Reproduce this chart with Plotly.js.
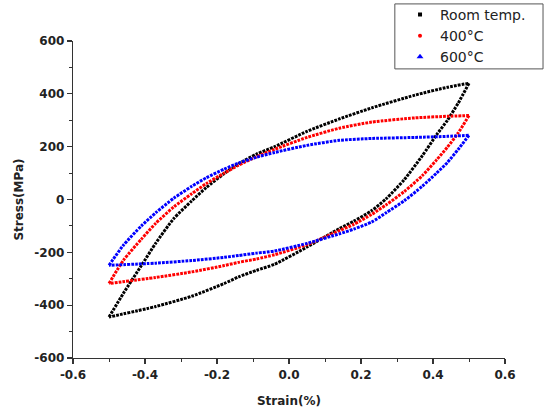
<!DOCTYPE html>
<html>
<head>
<meta charset="utf-8">
<script src="https://cdn.plot.ly/plotly-3.0.1.min.js"></script>
<style>html,body{margin:0;padding:0;background:#fff;}</style>
</head>
<body>
<div id="chart" style="width:544px;height:414px;"></div>
<script>
// Loading branch (from -0.5 % to +0.5 %)
const strainUp = [-0.5, -0.46, -0.41, -0.37, -0.32, -0.27, -0.23, -0.18, -0.14, -0.09, -0.04, 0.05, 0.14, 0.23, 0.35, 0.44, 0.5];
// Unloading branch (from +0.5 % back to -0.5 %)
const strainDown = [0.5, 0.47, 0.44, 0.41, 0.37, 0.32, 0.27, 0.23, 0.18, 0.14, 0.05, -0.04, -0.09, -0.14, -0.18, -0.27, -0.37, -0.5];

const roomUp   = [-445, -355, -250, -165, -72, -5, 45, 98, 135, 172, 200, 258, 305, 347, 395, 425, 440];
const roomDown = [440, 365, 300, 245, 165, 75, 3, -42, -82, -110, -180, -245, -268, -293, -318, -366, -405, -445];

const t400Up   = [-318, -230, -150, -90, -28, 22, 60, 100, 130, 162, 190, 235, 270, 293, 309, 315, 318];
const t400Down = [318, 252, 198, 150, 90, 30, -20, -56, -94, -118, -171, -209, -225, -238, -250, -274, -295, -318];

const t600Up   = [-249, -173, -100, -50, 5, 50, 82, 115, 138, 160, 178, 205, 224, 231, 235, 239, 243];
const t600Down = [243, 190, 140, 100, 50, -5, -50, -85, -112, -130, -166, -195, -203, -212, -219, -231, -241, -249];

const seriesNames = ["Room temp.", "400\u00b0C", "600\u00b0C"];
const seriesColors = ["#000000", "#ff0000", "#0000ff"];
const seriesSymbols = ["square", "circle", "triangle-up"];

const xTickVals = [-0.6, -0.4, -0.2, 0.0, 0.2, 0.4, 0.6];
const xTickText = ["-0.6", "-0.4", "-0.2", "0.0", "0.2", "0.4", "0.6"];
const yTickVals = [-600, -400, -200, 0, 200, 400, 600];
const yTickText = ["-600", "-400", "-200", "0", "200", "400", "600"];

const ups = [roomUp, t400Up, t600Up];
const downs = [roomDown, t400Down, t600Down];

const traces = [];
for (let i = 0; i < 3; i++) {
  const ln = {color: seriesColors[i], width: 3, dash: "2.8px,1.1px", shape: "spline", smoothing: 0.6};
  traces.push({x: strainUp, y: ups[i], mode: "lines", line: ln, showlegend: false, hoverinfo: "skip"});
  traces.push({x: strainDown, y: downs[i], mode: "lines", line: ln, showlegend: false, hoverinfo: "skip"});
}
for (let i = 0; i < 3; i++) {
  traces.push({
    x: [null], y: [null], mode: "markers", name: seriesNames[i],
    marker: {color: seriesColors[i], symbol: seriesSymbols[i], size: i === 2 ? 6 : 4}
  });
}

const axFont = {family: "DejaVu Sans", size: 12, color: "#222", weight: "bold"};
const layout = {
  width: 544, height: 414, autosize: false,
  margin: {l: 73, r: 39, t: 41, b: 56, autoexpand: false},
  paper_bgcolor: "#fff", plot_bgcolor: "#fff",
  showlegend: true,
  xaxis: {
    range: [-0.6, 0.6], tickvals: xTickVals, ticktext: xTickText,
    showline: true, linecolor: "#333", linewidth: 1.2, mirror: false,
    ticks: "outside", ticklen: 5, tickwidth: 1.2, tickcolor: "#333",
    minor: {ticks: "outside", ticklen: 3, tickwidth: 1, tickcolor: "#333", dtick: 0.1, tick0: 0, showgrid: false},
    showgrid: false, zeroline: false, tickfont: axFont,
    title: {text: "Strain(%)", font: axFont, standoff: 16}, automargin: false
  },
  yaxis: {
    range: [-600, 600], tickvals: yTickVals, ticktext: yTickText,
    showline: true, linecolor: "#333", linewidth: 1.2, mirror: false,
    ticks: "outside", ticklen: 5, tickwidth: 1.2, tickcolor: "#333",
    minor: {ticks: "outside", ticklen: 3, tickwidth: 1, tickcolor: "#333", dtick: 100, tick0: 0, showgrid: false},
    showgrid: false, zeroline: false, tickfont: axFont,
    title: {text: "Stress(MPa)", font: axFont, standoff: 8}, automargin: false
  },
  legend: {
    x: 0.757, y: 1.133, xanchor: "left", yanchor: "top",
    bgcolor: "rgba(0,0,0,0)", borderwidth: 0, tracegroupgap: 0,
    font: {family: "DejaVu Sans", size: 14, color: "#222"}
  },
  shapes: [{
    type: "rect", xref: "paper", yref: "paper",
    x0: 0.745, x1: 1.088, y0: 0.912, y1: 1.117,
    line: {color: "#555", width: 1}, fillcolor: "#fff", layer: "below"
  }]
};

Plotly.newPlot("chart", traces, layout, {displayModeBar: false, staticPlot: true});
</script>
</body>
</html>
